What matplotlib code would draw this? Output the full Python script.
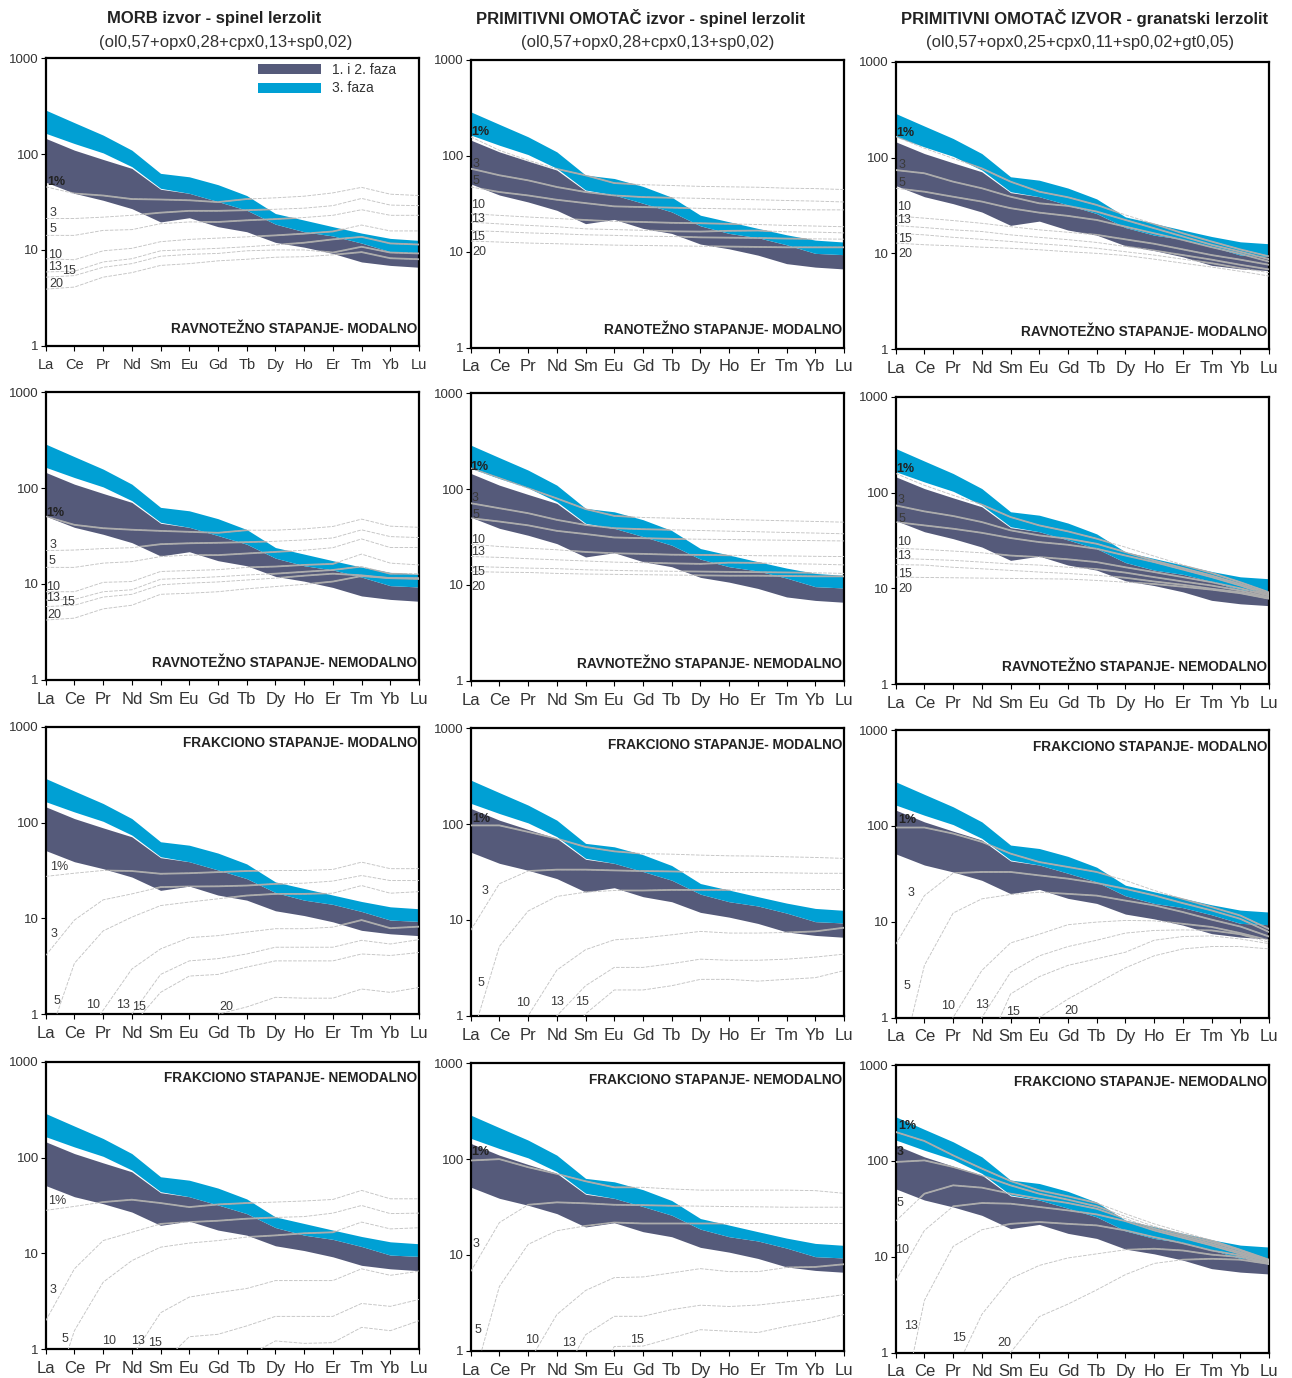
import matplotlib
matplotlib.use('Agg')
import matplotlib.pyplot as plt
from matplotlib.ticker import NullLocator

plt.rcParams['font.family'] = ['Liberation Sans', 'DejaVu Sans']

ree = ['La', 'Ce', 'Pr', 'Nd', 'Sm', 'Eu', 'Gd', 'Tb', 'Dy', 'Ho', 'Er', 'Tm', 'Yb', 'Lu']

# envelopes of the analysed rocks (chondrite normalised)
dark_hi = [146, 110, 88, 71, 43, 39, 32, 26, 18.6, 15.5, 14, 11.8, 9.6, 9.3]
dark_lo = [51, 39, 33, 27, 19.6, 21.7, 17.5, 15.5, 12, 10.7, 9.2, 7.5, 6.9, 6.6]
cyan_hi = [288, 213, 158, 110, 63, 58, 48, 37, 24, 20.5, 17.5, 15, 13.2, 12.6]
cyan_lo = [165, 129, 103, 74, 44, 39, 32, 26, 18.6, 15.5, 14, 11.8, 9.6, 9.3]

# melting model curves, key = degree of melting
eq_mod_morb = {
    '1%': [45.6, 38.8, 37, 34, 33.6, 33, 31.6, 34, 35, 36.4, 39.4, 45, 38.2, 37],
    '3': [21.3, 21.3, 22, 23, 24.5, 25.6, 25.6, 26, 26.6, 27.3, 29, 34.5, 29.4, 29],
    '5': [14.2, 14.2, 16, 16.3, 18.8, 19.6, 19.6, 20.4, 21, 21.8, 23, 26.3, 23, 23],
    '10': [8.1, 7.9, 9.8, 10.4, 12.2, 12.9, 13.3, 13.7, 14.2, 14.8, 15.6, 18.2, 15.8, 15.8],
    '13': [5.9, 6.0, 7.5, 8.1, 9.8, 10.1, 10.4, 10.8, 11.3, 11.9, 12.9, 13.7, 11.7, 11.4],
    '15': [5.2, 5.4, 6.6, 7.2, 8.6, 9.0, 9.2, 9.8, 10.0, 10.0, 9.4, 10.8, 9.4, 9.2],
    '20': [3.9, 4.1, 5.2, 5.8, 6.9, 7.2, 7.7, 8.0, 8.4, 8.5, 8.9, 9.5, 8.2, 8.0],
}
eq_mod_pm_sp = {
    '1%': [158, 114, 90, 73, 62.6, 52, 50, 49, 48, 47.5, 47, 46, 45.5, 44.5],
    '3': [73.5, 62.7, 55.5, 47.3, 41.9, 38.6, 37.1, 36.5, 36, 35.3, 34.8, 34.2, 33.7, 33],
    '5': [47.3, 41.9, 38.6, 34.8, 32.1, 29.7, 29.2, 28.8, 28.3, 28, 27.8, 27.5, 27.3, 27.3],
    '10': [24.9, 23.9, 23, 22.2, 21.4, 20.7, 20.4, 20, 19.8, 19.5, 19.2, 18.8, 18.5, 18.2],
    '13': [20.3, 19.5, 18.8, 18.2, 17.3, 17, 16.7, 16.3, 16.2, 16.5, 16.6, 16.1, 16, 15.7],
    '15': [16.6, 16.2, 15.7, 15.4, 15, 14.8, 14.5, 14.4, 14.1, 14, 13.9, 13.7, 13.6, 13.5],
    '20': [12.9, 12.6, 12.3, 12.1, 11.9, 11.7, 11.6, 11.5, 11.4, 11.3, 11.2, 11.1, 11.1, 11.1],
}
eq_mod_pm_gt = {
    '1%': [165, 125, 98, 77, 56, 44, 38.5, 32, 25.2, 20.3, 16.2, 13.3, 11, 9.3],
    '3': [74, 68.5, 56, 47.8, 39, 33.3, 31.3, 27.3, 22.3, 18.3, 15, 12.3, 10.4, 8.7],
    '5': [47.8, 44, 39, 34.7, 29.6, 26.6, 24.6, 22.3, 19, 16.2, 13.8, 11.6, 9.9, 8.2],
    '10': [24.6, 23.3, 22, 20.6, 19, 17.6, 16.6, 15.6, 14, 12.6, 11, 9.6, 8.6, 7.6],
    '13': [19.5, 18.6, 17.6, 16.9, 15.6, 14.7, 13.9, 13, 11.8, 10.7, 9.6, 8.6, 7.6, 6.8],
    '15': [16.2, 15.6, 14.7, 14, 13.3, 12.6, 12, 11.3, 10.4, 9.6, 8.7, 7.9, 7.0, 6.3],
    '20': [12.8, 12.3, 12, 11.6, 11.3, 10.9, 10.4, 10, 9.5, 8.7, 7.9, 7.2, 6.5, 5.8],
}
eq_nmod_morb = {
    '1%': [50.5, 41.4, 38.2, 36.8, 35.8, 35, 34.2, 36.4, 36.4, 37.6, 39.8, 47.5, 40.1, 39],
    '3': [22.3, 22.6, 23.4, 23.9, 26, 26.6, 26.9, 27.3, 27.9, 28.8, 30.2, 36.7, 31.2, 30.5],
    '5': [14.9, 14.9, 16.5, 17.1, 19.3, 20, 20, 20.8, 21.6, 22.5, 23.9, 29.5, 24, 24],
    '10': [8.3, 8.3, 10.4, 10.6, 13.5, 13.8, 14.1, 14.9, 15.2, 15.8, 16.2, 20.5, 16.5, 15.8],
    '13': [6.8, 6.9, 8.3, 8.7, 11.2, 11.5, 11.9, 12.4, 12.8, 13.4, 14, 15.2, 12.8, 12.8],
    '15': [5.8, 6.0, 7.3, 7.8, 9.8, 10.2, 10.5, 11, 11.5, 12.2, 12.8, 12.3, 11.5, 11.5],
    '20': [4.2, 4.4, 5.5, 6.0, 7.8, 8.0, 8.3, 8.9, 9.4, 9.9, 10.6, 12.1, 11.5, 11.3],
}
eq_nmod_pm_sp = {
    '1%': [165, 130, 102, 80, 62, 52.6, 50.6, 49.8, 49, 48.2, 47.5, 46.7, 46, 45.2],
    '3': [71.3, 63.2, 56.1, 47.8, 42.3, 39.1, 38.2, 37.6, 37, 36.4, 35.9, 35.3, 34.8, 34.2],
    '5': [49.8, 45.9, 41.9, 36.7, 34, 31.3, 30.8, 30.3, 30, 29.8, 29.5, 29.3, 29, 28.8],
    '10': [26.6, 25.2, 24.2, 23.3, 22.1, 21.4, 21.1, 20.7, 20.6, 20.4, 20.2, 20.1, 19.9, 19.8],
    '13': [19.8, 19.4, 18.8, 18.3, 17.8, 17.3, 17.1, 16.8, 16.6, 17.1, 17.0, 16.7, 16.5, 16.2],
    '15': [15.6, 15.3, 15, 14.8, 14.4, 14.2, 14, 13.9, 13.8, 13.7, 13.6, 13.5, 13.4, 13.2],
    '20': [13.8, 13.6, 13.5, 13.2, 13, 12.9, 12.8, 12.7, 12.6, 12.5, 12.5, 12.4, 12.3, 12.3],
}
eq_nmod_pm_gt = {
    '1%': [158, 119, 93.6, 74.7, 55.5, 45.4, 39.3, 33, 26.9, 21.7, 17.6, 14.5, 11.6, 9.1],
    '3': [73.4, 63.6, 56.9, 49.2, 40.3, 35.7, 33, 29.2, 23.9, 19.5, 16.3, 13.6, 11.1, 8.8],
    '5': [49.2, 45.4, 41.9, 38, 33.5, 30.4, 28.5, 25.9, 22, 18.8, 15.7, 13.1, 10.7, 8.5],
    '10': [26.3, 25.5, 24.5, 23.5, 22, 21.2, 20.1, 18.8, 16.6, 14.8, 13.1, 11.6, 10, 8.4],
    '13': [20.6, 20.1, 19.6, 18.8, 18, 17.5, 16.6, 15.9, 14.6, 13.1, 11.8, 10.7, 9.5, 8.1],
    '15': [17.7, 17.5, 16.6, 16, 15.4, 14.8, 14.3, 13.7, 12.9, 11.8, 10.9, 9.9, 9.1, 7.9],
    '20': [13.1, 13, 12.9, 12.8, 12.7, 12.6, 12.5, 12.1, 11.6, 11.1, 10.4, 9.7, 8.9, 7.8],
}
fr_mod_morb = {
    '1%': [27.4, 29.6, 31.6, 31.2, 29.2, 29.6, 30.4, 31.2, 31.6, 31.6, 32.4, 38.6, 33, 33],
    '3': [4.1, 9.6, 15.6, 18, 21.2, 21.5, 21.6, 22, 22.9, 23.3, 24.5, 28, 24.8, 24.8],
    '5': [0.46, 3.4, 7.4, 10.3, 13.6, 14.8, 16, 17.3, 18, 18, 18.3, 22, 18.3, 19],
    '10': [0.1, 0.4, 1.1, 2.96, 4.8, 6.3, 6.6, 7.2, 7.8, 7.8, 8.1, 9.6, 7.9, 8.2],
    '13': [0.02, 0.08, 0.3, 1.0, 2.6, 3.6, 3.8, 4.25, 5.0, 5.0, 5.0, 5.9, 5.4, 6.0],
    '15': [0.01, 0.05, 0.2, 0.76, 1.69, 2.5, 2.6, 3.1, 3.6, 3.6, 3.6, 4.25, 4.1, 4.4],
    '20': [0.01, 0.02, 0.05, 0.1, 0.3, 0.6, 1.0, 1.19, 1.5, 1.47, 1.47, 1.83, 1.69, 1.9],
}
fr_mod_pm_sp = {
    '1%': [97, 97, 83, 70.7, 57.8, 52, 49.2, 48.6, 47.5, 46.7, 46.4, 45.6, 44.9, 43.9],
    '3': [7.8, 23.9, 32.4, 33.5, 33.5, 32.9, 32.4, 32.1, 31.6, 31.3, 31.3, 31, 30.7, 30.7],
    '5': [0.54, 5.3, 12.4, 17.6, 19.5, 20.3, 20.3, 20.6, 20.6, 20.6, 20.6, 20.8, 20.8, 20.8],
    '10': [0.05, 0.3, 1.0, 3.0, 4.9, 6.2, 6.5, 7.0, 7.6, 7.3, 7.3, 7.4, 7.6, 8.3],
    '13': [0.01, 0.05, 0.3, 1.0, 2.06, 3.2, 3.2, 3.5, 3.9, 3.8, 3.8, 3.9, 4.1, 4.4],
    '15': [0.01, 0.02, 0.1, 0.4, 1.05, 1.86, 1.86, 2.06, 2.4, 2.4, 2.3, 2.4, 2.5, 2.96],
}
fr_mod_pm_gt = {
    '1%': [96, 96, 83, 68, 51.3, 41.9, 37.2, 33, 26.9, 21.2, 17.3, 14.2, 11.6, 8.4],
    '3': [5.8, 18.7, 32.1, 33, 33, 30.4, 28.1, 25.3, 22, 18.8, 15.6, 13.1, 10.7, 7.8],
    '5': [0.2, 3.5, 12.3, 17.3, 19.2, 20.3, 19.5, 18.7, 16.6, 14.8, 12.6, 10.5, 8.9, 7.0],
    '10': [0.05, 0.3, 1.0, 3.1, 6.0, 7.4, 9.3, 9.9, 10.3, 10.2, 9.5, 8.8, 7.6, 6.4],
    '13': [0.01, 0.05, 0.3, 1.0, 2.96, 4.4, 5.5, 6.4, 7.6, 8.1, 8.2, 8.1, 7.4, 6.1],
    '15': [0.01, 0.02, 0.1, 0.37, 1.76, 2.67, 3.5, 4.1, 4.8, 6.4, 7.0, 7.1, 6.6, 5.9],
    '20': [0.01, 0.01, 0.02, 0.1, 0.4, 1.0, 1.56, 2.27, 3.3, 4.4, 5.2, 5.5, 5.5, 5.2],
}
fr_nmod_morb = {
    '1%': [28.1, 30.9, 34.3, 36.3, 33.5, 30.4, 32.4, 33.5, 34.3, 35.2, 36.5, 45.4, 37.1, 37.1],
    '3': [1.98, 6.9, 13.6, 16.6, 20.3, 21.2, 21.9, 23, 23.7, 24.2, 26.3, 31.6, 26, 26.3],
    '5': [0.19, 1.56, 5.0, 8.4, 11.6, 12.8, 13.6, 14.8, 15.4, 16.2, 16.6, 21.2, 18, 18.5],
    '10': [0.01, 0.05, 0.3, 0.83, 2.4, 3.5, 3.9, 4.3, 5.2, 5.2, 5.2, 6.9, 5.9, 6.5],
    '13': [0.01, 0.02, 0.1, 0.3, 0.69, 1.35, 1.43, 1.75, 2.2, 2.2, 2.2, 3.0, 2.8, 3.3],
    '15': [0.01, 0.01, 0.02, 0.1, 0.3, 0.5, 0.7, 0.84, 1.22, 1.15, 1.17, 1.69, 1.56, 1.98],
}
fr_nmod_pm_sp = {
    '1%': [96.8, 100, 82.4, 70.2, 58.8, 50.8, 50.8, 48.8, 47.5, 47.5, 47.5, 47.5, 46.9, 44],
    '3': [6.7, 21.8, 33.4, 35.4, 34.6, 33.4, 33.1, 32.6, 32.3, 32, 31.8, 31.5, 31.5, 31.5],
    '5': [0.39, 4.7, 12.9, 17.9, 20.1, 21.8, 21.3, 21.3, 21.3, 21.3, 21.3, 21.3, 21.3, 21.3],
    '10': [0.01, 0.1, 0.74, 2.39, 4.26, 5.8, 5.9, 6.5, 7.2, 6.7, 6.7, 7.4, 7.5, 8.0],
    '13': [0.01, 0.02, 0.1, 0.42, 1.47, 2.29, 2.29, 2.69, 2.99, 2.9, 3.0, 3.24, 3.5, 3.86],
    '15': [0.01, 0.01, 0.02, 0.1, 0.3, 1.11, 1.12, 1.36, 1.66, 1.6, 1.55, 1.8, 2.03, 2.39],
}
fr_nmod_pm_gt = {
    '1%': [200, 161, 114, 83, 61.6, 49.2, 42.6, 36.3, 28, 22, 18, 14.8, 11.8, 9.3],
    '3': [97.3, 101, 86.3, 70.6, 55.5, 45.4, 39.3, 33.5, 26.3, 20.7, 17, 14.2, 11.6, 9.1],
    '5': [23.5, 45.4, 55.5, 52.5, 45.4, 40.3, 36.3, 31.6, 24.9, 19.6, 16.3, 13.6, 11.1, 9.0],
    '10': [5.6, 18.8, 33.5, 36.3, 35.7, 33, 30.4, 27.6, 23.5, 18.8, 15.7, 13.1, 10.7, 8.8],
    '13': [0.13, 3.5, 12.8, 19.1, 22, 23, 22, 21.2, 18.8, 16, 13.8, 11.6, 10.3, 8.5],
    '15': [0.01, 0.1, 0.58, 2.5, 5.9, 8.1, 9.7, 10.7, 11.8, 12.1, 11.6, 10.5, 9.9, 8.4],
    '20': [0.01, 0.01, 0.1, 0.3, 1.0, 2.37, 3.2, 4.5, 6.5, 8.5, 9.3, 9.5, 9.3, 8.4],
}

col_titles = [
    ('MORB izvor - spinel lerzolit', '(ol0,57+opx0,28+cpx0,13+sp0,02)'),
    ('PRIMITIVNI OMOTAČ izvor - spinel lerzolit', '(ol0,57+opx0,28+cpx0,13+sp0,02)'),
    ('PRIMITIVNI OMOTAČ IZVOR - granatski lerzolit', '(ol0,57+opx0,25+cpx0,11+sp0,02+gt0,05)'),
]

# where the curve labels sit: (x position along REE, value, bold)
lab_pos = {
    (0, 0): [(0.38, 51, 1), (0.27, 24.4, 0), (0.24, 16.4, 0), (0.33, 8.9, 0), (0.33, 6.6, 0), (0.82, 6.1, 0), (0.36, 4.4, 0)],
    (0, 1): [(0.33, 178, 1), (0.17, 83, 0), (0.17, 54, 0), (0.27, 30.4, 0), (0.27, 22, 0), (0.27, 14.2, 0), (0.29, 9.9, 0)],
    (0, 2): [(0.33, 179, 1), (0.21, 83.6, 0), (0.21, 54.7, 0), (0.3, 30.3, 0), (0.3, 22.3, 0), (0.33, 14.2, 0), (0.33, 9.9, 0)],
    (1, 0): [(0.33, 54.7, 1), (0.24, 25.6, 0), (0.21, 17.4, 0), (0.27, 9.4, 0), (0.27, 7.2, 0), (0.79, 6.5, 0), (0.29, 4.8, 0)],
    (1, 1): [(0.29, 172, 1), (0.15, 81.7, 0), (0.17, 53.8, 0), (0.27, 29.6, 0), (0.24, 22, 0), (0.27, 13.8, 0), (0.27, 9.6, 0)],
    (1, 2): [(0.33, 178, 1), (0.17, 83, 0), (0.21, 53.3, 0), (0.29, 30.4, 0), (0.29, 22, 0), (0.33, 14.2, 0), (0.33, 9.9, 0)],
    (2, 0): [(0.48, 34.3, 0), (0.29, 6.9, 0), (0.38, 1.38, 0), (1.66, 1.25, 0), (2.68, 1.25, 0), (3.26, 1.2, 0), (6.28, 1.2, 0)],
    (2, 1): [(0.38, 114, 1), (0.5, 20, 0), (0.35, 2.2, 0), (1.81, 1.35, 0), (3.0, 1.38, 0), (3.89, 1.38, 0)],
    (2, 2): [(0.41, 114, 1), (0.52, 19.9, 0), (0.38, 2.15, 0), (1.84, 1.32, 0), (3.0, 1.36, 0), (4.1, 1.15, 0), (6.1, 1.17, 0)],
    (3, 0): [(0.41, 35, 0), (0.27, 4.1, 0), (0.67, 1.27, 0), (2.22, 1.22, 0), (3.23, 1.22, 0), (3.79, 1.16, 0)],
    (3, 1): [(0.33, 118, 1), (0.17, 12.9, 0), (0.24, 1.66, 0), (2.15, 1.3, 0), (3.44, 1.2, 0), (5.78, 1.3, 0)],
    (3, 2): [(0.41, 230, 1), (0.17, 124, 1), (0.15, 36.3, 0), (0.23, 11.6, 0), (0.52, 1.9, 0), (2.22, 1.41, 0), (3.77, 1.27, 0)],
}

panels = {
    (0, 0): (eq_mod_morb, 'RAVNOTEŽNO STAPANJE- MODALNO'),
    (0, 1): (eq_mod_pm_sp, 'RANOTEŽNO STAPANJE- MODALNO'),
    (0, 2): (eq_mod_pm_gt, 'RAVNOTEŽNO STAPANJE- MODALNO'),
    (1, 0): (eq_nmod_morb, 'RAVNOTEŽNO STAPANJE- NEMODALNO'),
    (1, 1): (eq_nmod_pm_sp, 'RAVNOTEŽNO STAPANJE- NEMODALNO'),
    (1, 2): (eq_nmod_pm_gt, 'RAVNOTEŽNO STAPANJE- NEMODALNO'),
    (2, 0): (fr_mod_morb, 'FRAKCIONO STAPANJE- MODALNO'),
    (2, 1): (fr_mod_pm_sp, 'FRAKCIONO STAPANJE- MODALNO'),
    (2, 2): (fr_mod_pm_gt, 'FRAKCIONO STAPANJE- MODALNO'),
    (3, 0): (fr_nmod_morb, 'FRAKCIONO STAPANJE- NEMODALNO'),
    (3, 1): (fr_nmod_pm_sp, 'FRAKCIONO STAPANJE- NEMODALNO'),
    (3, 2): (fr_nmod_pm_gt, 'FRAKCIONO STAPANJE- NEMODALNO'),
}

DARK = '#555a7a'
CYAN = '#00a0d4'
W, H = 1292, 1378
col_left = [45.7, 470.7, 895.7]
row_top = [[58.3, 60, 61.7], [392.3, 393.3, 396.7], [726.7, 728.3, 730], [1061.7, 1063.3, 1065]]
ax_w, ax_h = 373.3, 287.5


def draw_panel(ax, r, c):
    curves, caption = panels[(r, c)]
    x = list(range(len(ree)))
    dark = ax.fill_between(x, dark_lo, dark_hi, color=DARK, lw=0, zorder=2)
    cyan = ax.fill_between(x, cyan_lo, cyan_hi, color=CYAN, lw=0, zorder=2)

    for name, vals in curves.items():
        ax.plot(x, vals, color='#c4c4c4', lw=0.65, ls=(0, (4, 1.5)), zorder=3)
        for band in (dark, cyan):
            ln, = ax.plot(x, vals, color='#acacac', lw=1.3, zorder=4)
            ln.set_clip_path(band.get_paths()[0], band.get_transform())

    for (lx, ly, bold), name in zip(lab_pos[(r, c)], curves.keys()):
        ax.text(lx, ly, name, fontsize=9, color='#222222' if bold else '#3a3a3a',
                fontweight='bold' if bold else 'normal', ha='center', va='center', zorder=5)

    ax.set_yscale('log')
    ax.set_ylim(1, 1000)
    ax.set_xlim(0, len(ree) - 1)
    ax.set_yticks([1, 10, 100, 1000], ['1', '10', '100', '1000'])
    ax.yaxis.set_minor_locator(NullLocator())
    ax.set_xticks(x, ree)
    ax.tick_params(axis='y', direction='out', length=3.5, width=0.8, labelsize=9.5,
                   labelcolor='#333333', pad=1.5)
    xs = 10.5 if (r, c) == (0, 0) else 12
    ax.tick_params(axis='x', direction='out', length=3.5, width=0.8, labelsize=xs,
                   labelcolor='#333333', pad=5)
    for sp in ax.spines.values():
        sp.set_linewidth(1.6)
        sp.set_color('black')

    if r < 2:
        ax.text(0.995, 0.06, caption, transform=ax.transAxes, ha='right', va='center',
                fontsize=9.8, fontweight='bold', color='#222222', zorder=6)
    else:
        ax.text(0.995, 0.942, caption, transform=ax.transAxes, ha='right', va='center',
                fontsize=9.8, fontweight='bold', color='#222222', zorder=6)

    if (r, c) == (0, 0):
        ax.legend([dark, cyan], ['1. i 2. faza', '3. faza'], loc='upper left',
                  bbox_to_anchor=(0.569, 0.985), frameon=False, fontsize=10,
                  handlelength=4.5, handleheight=0.75, handletextpad=0.8,
                  labelspacing=0.35, borderpad=0, borderaxespad=0, labelcolor='#333333')


fig = plt.figure(figsize=(W / 100, H / 100), dpi=100)
for r in range(4):
    for c in range(3):
        top = row_top[r][c]
        ax = fig.add_axes([col_left[c] / W, 1 - (top + ax_h) / H, ax_w / W, ax_h / H])
        draw_panel(ax, r, c)

title_x = [(214, 226), (640, 648), (1085, 1080)]
for (t1, t2), (x1, x2) in zip(col_titles, title_x):
    fig.text(x1 / W, 1 - 18 / H, t1, ha='center', va='center', fontsize=12,
             fontweight='bold', color='#222222')
    fig.text(x2 / W, 1 - 42 / H, t2, ha='center', va='center', fontsize=12, color='#333333')

fig.savefig('out.png', dpi=100)
